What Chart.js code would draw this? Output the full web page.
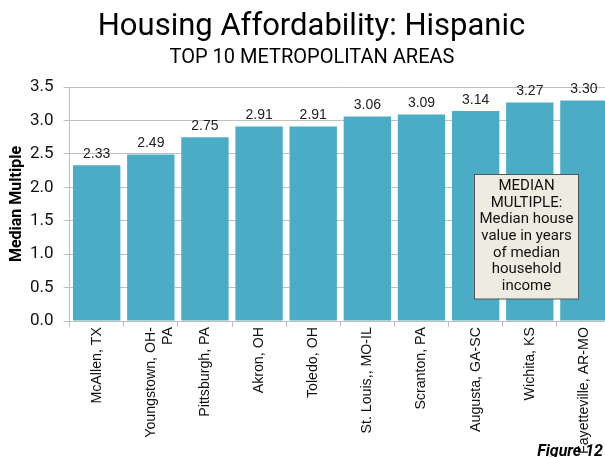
<!DOCTYPE html>
<html>
<head>
<meta charset="utf-8">
<script src="https://cdn.jsdelivr.net/npm/chart.js@4.4.1/dist/chart.umd.min.js"></script>
<style>
  html, body { margin: 0; padding: 0; background: #fff; overflow: hidden; }
  #wrap { width: 612px; height: 457px; }
</style>
</head>
<body>
<div id="wrap"><canvas id="c" width="612" height="457"></canvas></div>
<script>
// Metro areas (x categories) and their Hispanic median multiples
const metros = [
  'McAllen, TX',
  ['Youngstown, OH-', 'PA'],
  'Pittsburgh, PA',
  'Akron, OH',
  'Toledo, OH',
  'St. Louis,, MO-IL',
  'Scranton, PA',
  'Augusta, GA-SC',
  'Wichita, KS',
  'Fayetteville, AR-MO'
];
const medianMultiple = [2.33, 2.49, 2.75, 2.91, 2.91, 3.06, 3.09, 3.14, 3.27, 3.30];
const yTicks = [0, 0.5, 1.0, 1.5, 2.0, 2.5, 3.0, 3.5];

const titleText = 'Housing Affordability: Hispanic';
const subtitleText = 'TOP 10 METROPOLITAN AREAS';
const yTitleText = 'Median Multiple';
const noteLines = ['MEDIAN', 'MULTIPLE:', 'Median house', 'value in years', 'of median', 'household', 'income'];
const figureText = 'Figure 12';

// Headings, value labels, axis title, explanatory note and figure number
const decorations = {
  id: 'decorations',
  afterDatasetsDraw(chart) {
    const ctx = chart.ctx;
    ctx.save();
    // value labels above each bar
    const meta = chart.getDatasetMeta(0);
    ctx.fillStyle = '#222';
    ctx.font = '14px "Liberation Sans", Arial, sans-serif';
    ctx.textAlign = 'center';
    ctx.textBaseline = 'bottom';
    meta.data.forEach((bar, i) => {
      ctx.fillText(medianMultiple[i].toFixed(2), bar.x, bar.y - 4);
    });
    ctx.restore();
  },
  afterDraw(chart) {
    const ctx = chart.ctx;
    const area = chart.chartArea;
    ctx.save();
    ctx.fillStyle = '#000';
    ctx.textAlign = 'center';
    ctx.textBaseline = 'alphabetic';
    ctx.font = '31px Roboto, sans-serif';
    ctx.fillText(titleText, 311.5, 35);
    ctx.font = '20px Roboto, sans-serif';
    ctx.fillText(subtitleText, 312, 63);

    // rotated y-axis title
    ctx.save();
    ctx.translate(17, (area.top + area.bottom) / 2);
    ctx.rotate(-Math.PI / 2);
    ctx.font = 'bold 16px Roboto, sans-serif';
    ctx.textBaseline = 'middle';
    ctx.fillText(yTitleText, 0, 0);
    ctx.restore();

    // note box
    const bx = 474.5, by = 174.5, bw = 104, bh = 124.5;
    ctx.fillStyle = '#EEECE1';
    ctx.fillRect(bx, by, bw, bh);
    ctx.strokeStyle = '#555';
    ctx.lineWidth = 1;
    ctx.strokeRect(bx, by, bw, bh);
    ctx.fillStyle = '#111';
    ctx.font = '15px Roboto, sans-serif';
    ctx.textBaseline = 'middle';
    noteLines.forEach((t, i) => {
      ctx.fillText(t, bx + bw / 2, 186.5 + i * 16.6);
    });

    // figure number
    ctx.font = 'italic bold 16px Roboto, sans-serif';
    ctx.textAlign = 'right';
    ctx.textBaseline = 'alphabetic';
    ctx.fillStyle = '#000';
    ctx.fillText(figureText, 603, 455.5);
    ctx.restore();
  }
};

new Chart(document.getElementById('c'), {
  type: 'bar',
  data: {
    labels: metros,
    datasets: [{
      data: medianMultiple,
      backgroundColor: '#4BACC6',
      borderWidth: 0,
      barPercentage: 0.875,
      categoryPercentage: 1.0
    }]
  },
  options: {
    responsive: false,
    animation: false,
    devicePixelRatio: 1,
    layout: { padding: { top: 87, right: 1, bottom: 3, left: 20 } },
    plugins: {
      legend: { display: false },
      tooltip: { enabled: false },
      title: { display: false }
    },
    scales: {
      x: {
        offset: true,
        grid: {
          display: true,
          drawOnChartArea: false,
          drawTicks: true,
          tickLength: 6,
          color: '#bfbfbf',
          offset: true
        },
        border: { display: true, color: '#bfbfbf' },
        ticks: {
          minRotation: 90,
          maxRotation: 90,
          autoSkip: false,
          padding: 0,
          color: '#111',
          font: { family: '"Liberation Sans", Arial, sans-serif', size: 14.2 }
        }
      },
      y: {
        min: 0,
        max: 3.5,
        afterBuildTicks(scale) {
          scale.ticks = yTicks.map(v => ({ value: v }));
        },
        grid: {
          color: '#bfbfbf',
          tickLength: 6,
          drawTicks: true
        },
        border: { display: true, color: '#bfbfbf' },
        ticks: {
          padding: 10,
          color: '#111',
          font: { family: 'Roboto, sans-serif', size: 17 },
          callback: v => Number(v).toFixed(1)
        }
      }
    }
  },
  plugins: [decorations]
});
</script>
</body>
</html>
